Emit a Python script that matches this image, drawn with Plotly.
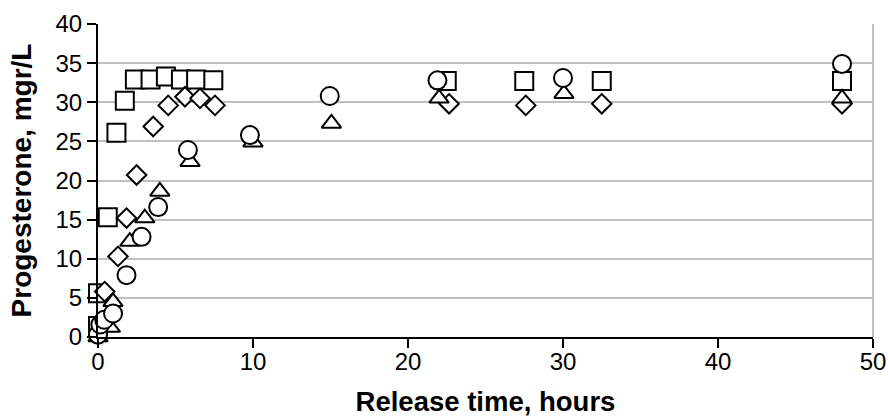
import plotly.graph_objects as go

# Series (time in hours, progesterone in mgr/L)
sq_x = [0, 0.0, 0.63, 1.19, 1.73, 2.38, 3.39, 4.38, 5.35, 6.33, 7.44, 22.5, 27.5, 32.5, 48]
sq_y = [1.4, 5.6, 15.3, 26.1, 30.2, 32.9, 32.9, 33.3, 32.9, 32.9, 32.8, 32.7, 32.7, 32.7, 32.7]

di_x = [0.43, 1.29, 1.84, 2.49, 3.56, 4.53, 5.61, 6.58, 7.55, 22.65, 27.6, 32.5, 48]
di_y = [5.8, 10.3, 15.2, 20.7, 26.9, 29.6, 30.7, 30.5, 29.6, 29.8, 29.6, 29.8, 29.8]

tr_x = [0, 0.8, 0.97, 2.05, 3.02, 3.99, 5.94, 10.0, 15.06, 22.0, 30.06, 48]
tr_y = [0, 1.2, 4.5, 12.2, 15.2, 18.6, 22.4, 24.9, 27.3, 30.5, 31.1, 30.5]

ci_x = [0, 0.15, 0.4, 0.97, 1.84, 2.81, 3.88, 5.8, 9.8, 14.95, 21.9, 30.0, 48]
ci_y = [0.3, 1.6, 2.2, 3.0, 7.9, 12.8, 16.6, 23.9, 25.8, 30.8, 32.8, 33.1, 34.9]

x_title = "Release time, hours"
y_title = "Progesterone, mgr/L"

FONT = "Liberation Sans, Arial, sans-serif"

def series(x, y, symbol, size):
    return go.Scatter(
        x=x, y=y, mode="markers", cliponaxis=False, showlegend=False,
        marker=dict(symbol=symbol, size=size, color="white",
                    line=dict(color="black", width=2)),
    )

fig = go.Figure()
fig.add_trace(series(sq_x, sq_y, "square", 18))
fig.add_trace(series(di_x, di_y, "diamond", 15))
fig.add_trace(series(tr_x, tr_y, "triangle-up", 17))
fig.add_trace(series(ci_x, ci_y, "circle", 18))

fig.update_layout(
    width=888, height=417,
    margin=dict(l=98, r=15, t=24, b=80),
    paper_bgcolor="white", plot_bgcolor="white",
    font=dict(family=FONT, size=24, color="black"),
    xaxis=dict(
        range=[0, 50], dtick=10, tick0=0, automargin=False,
        showgrid=False, zeroline=False,
        showline=True, linecolor="black", linewidth=2,
        ticks="outside", ticklen=9, tickwidth=2, tickcolor="black",
        ticklabelstandoff=-7,
        title=dict(text="<b>" + x_title + "</b>", font=dict(size=27.5), standoff=20),
    ),
    yaxis=dict(
        range=[0, 40], dtick=5, tick0=0, automargin=False,
        showgrid=True, gridcolor="#c0c0c0", gridwidth=2, zeroline=False,
        showline=True, linecolor="black", linewidth=2,
        ticks="outside", ticklen=9, tickwidth=2, tickcolor="black",
        title=dict(text="<b>" + y_title + "</b>", font=dict(size=28), standoff=16),
    ),
    shapes=[dict(type="line", xref="paper", yref="paper", x0=1, x1=1, y0=0, y1=1,
                 line=dict(color="#c0c0c0", width=2), layer="below")],
)

fig.write_html("out.html")
